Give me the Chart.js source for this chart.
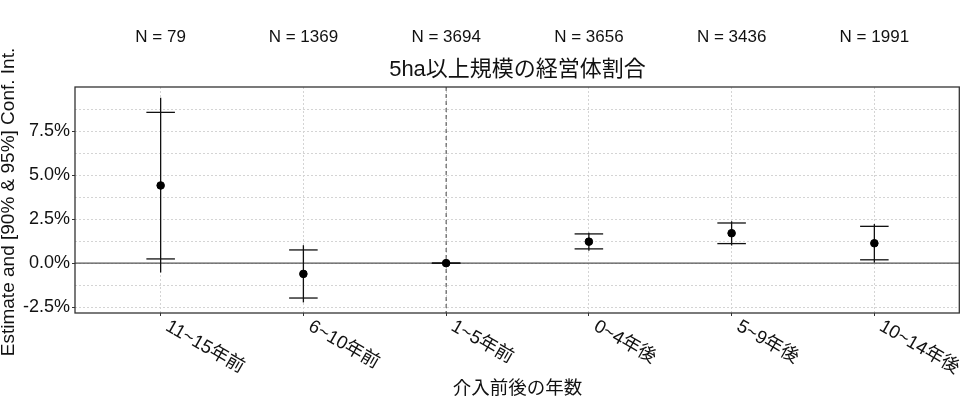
<!DOCTYPE html>
<html>
<head>
<meta charset="utf-8">
<script src="https://cdn.jsdelivr.net/npm/chart.js@4/dist/chart.umd.min.js"></script>
<style>
  html, body { margin: 0; padding: 0; background: #fff; }
  #wrap { width: 960px; height: 402px; }
</style>
</head>
<body>
<div id="wrap"><canvas id="c" width="960" height="402"></canvas></div>
<script>
const categories = ['11~15年前', '6~10年前', '1~5年前', '0~4年後', '5~9年後', '10~14年後'];
const nObs = [79, 1369, 3694, 3656, 3436, 1991];
const estimate = [4.41, -0.61, 0, 1.22, 1.70, 1.13];
const ci90Low = [0.24, -1.98, 0, 0.81, 1.11, 0.19];
const ci90High = [8.56, 0.75, 0, 1.66, 2.28, 2.09];
const ci95Low = [-0.53, -2.23, 0, 0.71, 1.00, 0.03];
const ci95High = [9.39, 1.02, 0, 1.73, 2.38, 2.22];
const yTicks = [-2.5, -1.25, 0, 1.25, 2.5, 3.75, 5, 6.25, 7.5, 8.75];
const yMajorStep = 2.5;
const referenceIndex = 2;
const chartTitle = '5ha以上規模の経営体割合';
const xTitle = '介入前後の年数';
const yTitle = 'Estimate and [90% & 95%] Conf. Int.';

const FONT = '"Liberation Sans", "Noto Sans CJK JP", sans-serif';
const isMajor = v => Math.abs(v / yMajorStep - Math.round(v / yMajorStep)) < 1e-6;

const overlay = {
  id: 'overlay',
  beforeDatasetsDraw(chart) {
    const { ctx, chartArea: a, scales: { x, y } } = chart;
    ctx.save();
    const y0 = y.getPixelForValue(0);
    ctx.strokeStyle = '#555';
    ctx.lineWidth = 1.2;
    ctx.beginPath(); ctx.moveTo(a.left, y0); ctx.lineTo(a.right, y0); ctx.stroke();
    const xr = x.getPixelForValue(referenceIndex + 1);
    ctx.strokeStyle = '#444';
    ctx.lineWidth = 1;
    ctx.setLineDash([4, 3]);
    ctx.beginPath(); ctx.moveTo(xr, a.top); ctx.lineTo(xr, a.bottom); ctx.stroke();
    ctx.setLineDash([]);
    ctx.strokeStyle = '#111';
    ctx.lineWidth = 1.3;
    categories.forEach((c, i) => {
      const px = x.getPixelForValue(i + 1);
      const pl = x.getPixelForValue(i + 1 - 0.1);
      const pr = x.getPixelForValue(i + 1 + 0.1);
      ctx.beginPath();
      ctx.moveTo(px, y.getPixelForValue(ci95Low[i]));
      ctx.lineTo(px, y.getPixelForValue(ci95High[i]));
      ctx.stroke();
      [ci90Low[i], ci90High[i]].forEach(v => {
        const py = y.getPixelForValue(v);
        ctx.beginPath(); ctx.moveTo(pl, py); ctx.lineTo(pr, py); ctx.stroke();
      });
    });
    ctx.restore();
  },
  afterDraw(chart) {
    const { ctx, chartArea: a, scales: { x, y } } = chart;
    ctx.save();
    ctx.strokeStyle = '#333';
    ctx.lineWidth = 1.3;
    ctx.strokeRect(a.left, a.top, a.right - a.left - 0.7, a.bottom - a.top);
    ctx.fillStyle = '#111';
    ctx.font = '17px ' + FONT;
    ctx.textAlign = 'center';
    ctx.textBaseline = 'middle';
    nObs.forEach((n, i) => {
      ctx.fillText('N = ' + n, x.getPixelForValue(i + 1), 37);
    });
    ctx.font = '22px ' + FONT;
    ctx.fillText(chartTitle, (a.left + a.right) / 2, 70);
    ctx.font = '18.5px ' + FONT;
    ctx.textAlign = 'left';
    ctx.textBaseline = 'top';
    categories.forEach((c, i) => {
      const px = x.getPixelForValue(i + 1);
      ctx.save();
      ctx.translate(px + 11, a.bottom + 4);
      ctx.rotate(Math.PI / 6);
      ctx.fillText(c, 0, 0);
      ctx.restore();
    });
    ctx.font = '18.5px ' + FONT;
    ctx.textAlign = 'center';
    ctx.textBaseline = 'middle';
    ctx.fillText(xTitle, (a.left + a.right) / 2, 389);
    ctx.font = '19px ' + FONT;
    ctx.save();
    ctx.translate(9, (a.top + a.bottom) / 2 + 2);
    ctx.rotate(-Math.PI / 2);
    ctx.fillText(yTitle, 0, 0);
    ctx.restore();
    ctx.restore();
  }
};

new Chart(document.getElementById('c'), {
  type: 'scatter',
  data: {
    datasets: [{
      data: estimate.map((v, i) => ({ x: i + 1, y: v })),
      backgroundColor: '#000',
      borderColor: '#000',
      pointRadius: 3.8,
      pointHoverRadius: 3.8,
      clip: false
    }]
  },
  options: {
    responsive: false,
    animation: false,
    devicePixelRatio: 1,
    layout: { autoPadding: false, padding: { top: 87, right: 0, left: 0, bottom: 0 } },
    plugins: { legend: { display: false }, tooltip: { enabled: false }, title: { display: false } },
    scales: {
      x: {
        type: 'linear',
        min: 0.4,
        max: 6.6,
        afterBuildTicks: s => { s.ticks = categories.map((c, i) => ({ value: i + 1 })); },
        afterFit: s => { s.height = 89; s.paddingLeft = 0; s.paddingRight = 0; },
        ticks: { display: false },
        grid: { color: '#d4d4d4', lineWidth: 1, tickLength: 3, tickColor: '#333' },
        border: { display: false, dash: [2, 2] }
      },
      y: {
        type: 'linear',
        min: -2.83,
        max: 10.0,
        afterBuildTicks: s => { s.ticks = yTicks.map(v => ({ value: v })); },
        afterFit: s => { s.width = 75; s.paddingTop = 0; s.paddingBottom = 0; },
        ticks: {
          padding: 2,
          color: '#111',
          font: { family: FONT, size: 18 },
          callback: v => isMajor(v) ? v.toFixed(1) + '%' : ''
        },
        grid: {
          color: '#d4d4d4',
          lineWidth: 1,
          tickLength: 3,
          tickColor: c => (c.tick && isMajor(c.tick.value)) ? '#333' : 'rgba(0,0,0,0)'
        },
        border: { display: false, dash: [2, 2] }
      }
    }
  },
  plugins: [overlay]
});
</script>
</body>
</html>
